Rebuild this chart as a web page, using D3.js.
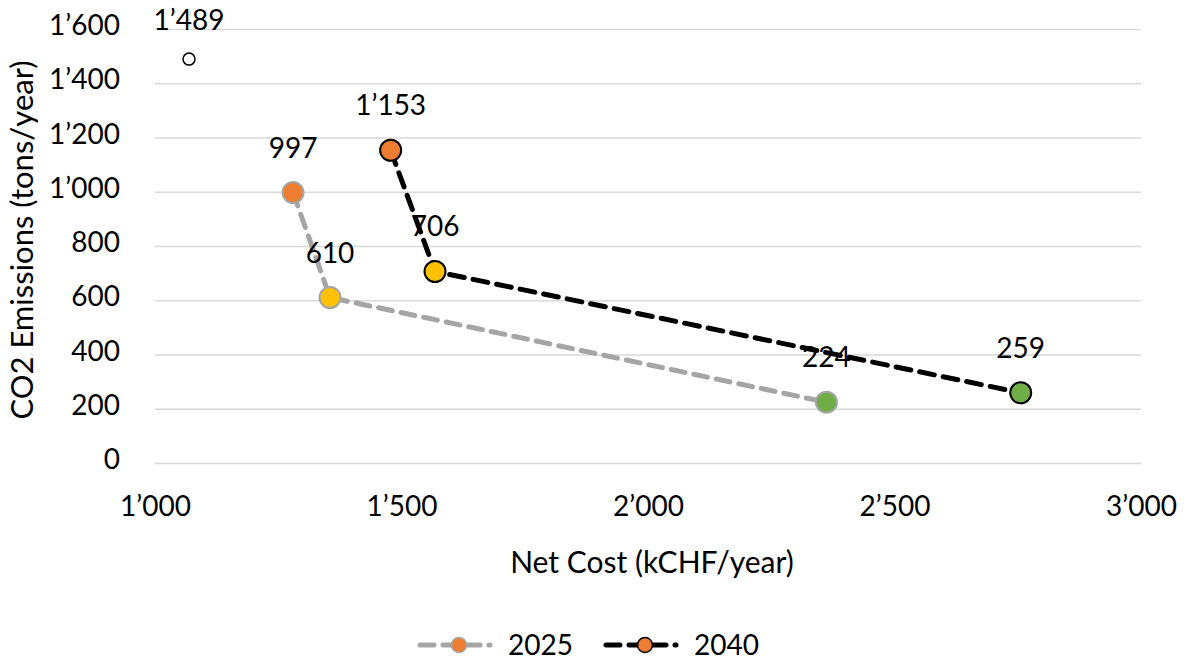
<!DOCTYPE html>
<html><head><meta charset="utf-8">
<script src="https://cdn.jsdelivr.net/npm/d3@7"></script>
<style>body{margin:0;background:#fff}svg{display:block}text{font-family:Lato,"Open Sans",sans-serif;fill:#000}</style>
</head><body>
<svg id="c" width="1186" height="663"></svg>
<script>
// Data
const seriesNames = ["2025", "2040"];
const cost2025 = [1280, 1355, 2362];
const co2_2025 = [997, 610, 224];
const cost2040 = [1478, 1568, 2756];
const co2_2040 = [1153, 706, 259];
const refCost = [1069];
const refCo2 = [1489];
const pointColors = ["#ED7D31", "#FFC000", "#70AD47"];
const xTicks = [1000, 1500, 2000, 2500, 3000];
const yTicks = [0, 200, 400, 600, 800, 1000, 1200, 1400, 1600];

const svg = d3.select("#c");
const loc = d3.formatLocale({decimal: ".", thousands: "\u2019", grouping: [3], currency: ["", ""]});
const fmt = loc.format(",d");

const x = d3.scaleLinear().domain([1000, 3000]).range([155, 1141]);
const y = d3.scaleLinear().domain([0, 1600]).range([463, 29]);

// gridlines + y axis
const yAx = svg.append("g").attr("transform", `translate(${x(1000)},0)`)
  .call(d3.axisLeft(y).tickValues(yTicks).tickFormat(fmt).tickSize(-(x(3000) - x(1000))).tickPadding(35));
yAx.select(".domain").remove();
yAx.selectAll(".tick line").attr("stroke", "#D9D9D9").attr("stroke-width", 1.5);
yAx.selectAll(".tick text").attr("font-size", 28).attr("dy", "0.2em").style("font-family", "Lato");

// x axis labels
const xAx = svg.append("g").attr("transform", `translate(0,${y(0)})`)
  .call(d3.axisBottom(x).tickValues(xTicks).tickFormat(fmt).tickSize(0).tickPadding(33));
xAx.select(".domain").remove();
xAx.selectAll(".tick text").attr("font-size", 28).style("font-family", "Lato");

// axis titles
svg.append("text").attr("x", 652).attr("y", 573).attr("text-anchor", "middle")
  .attr("font-size", 30).text("Net Cost (kCHF/year)");
svg.append("text").attr("transform", "translate(33,240) rotate(-90)").attr("text-anchor", "middle")
  .attr("font-size", 31).text("CO2 Emissions (tons/year)");

const series = [
  {name: seriesNames[0], cost: cost2025, co2: co2_2025, line: "#A5A5A5", width: 5, dash: "14,9"},
  {name: seriesNames[1], cost: cost2040, co2: co2_2040, line: "#000000", width: 5, dash: "15,9"}
];

const lineGen = d3.line().x(d => x(d[0])).y(d => y(d[1]));
series.forEach(s => {
  const pts = s.cost.map((c, i) => [c, s.co2[i]]);
  svg.append("path").attr("d", lineGen(pts)).attr("fill", "none")
    .attr("stroke", s.line).attr("stroke-width", s.width).attr("stroke-dasharray", s.dash)
    .attr("stroke-linecap", "round");
});
series.forEach(s => {
  const pts = s.cost.map((c, i) => [c, s.co2[i]]);
  svg.selectAll(null).data(pts).enter().append("circle")
    .attr("cx", d => x(d[0])).attr("cy", d => y(d[1])).attr("r", 10.5)
    .attr("fill", (d, i) => pointColors[i]).attr("stroke", s.line).attr("stroke-width", 2);
  svg.selectAll(null).data(pts).enter().append("text")
    .attr("x", d => x(d[0])).attr("y", d => y(d[1]) - 35).attr("text-anchor", "middle")
    .attr("font-size", 28).text(d => fmt(d[1]));
});
// reference point
const refPts = refCost.map((c, i) => [c, refCo2[i]]);
svg.selectAll(null).data(refPts).enter().append("circle")
  .attr("cx", d => x(d[0])).attr("cy", d => y(d[1])).attr("r", 6)
  .attr("fill", "#fff").attr("stroke", "#000").attr("stroke-width", 1.5);
svg.selectAll(null).data(refPts).enter().append("text")
  .attr("x", d => x(d[0])).attr("y", d => y(d[1]) - 29).attr("text-anchor", "middle")
  .attr("font-size", 28).text(d => fmt(d[1]));

// legend
const legX = [418, 604];
series.forEach((s, i) => {
  const g = svg.append("g").attr("transform", `translate(${legX[i]},645)`);
  g.append("line").attr("x1", 2).attr("x2", 72).attr("y1", 0).attr("y2", 0)
    .attr("stroke", s.line).attr("stroke-width", s.width).attr("stroke-dasharray", "14,9")
    .attr("stroke-linecap", "round");
  g.append("circle").attr("cx", 41).attr("cy", 0).attr("r", 7.5)
    .attr("fill", pointColors[0]).attr("stroke", s.line).attr("stroke-width", 1.5);
  g.append("text").attr("x", 90).attr("y", 0).attr("dy", "0.36em").attr("font-size", 28).text(s.name);
});
</script>
</body></html>
